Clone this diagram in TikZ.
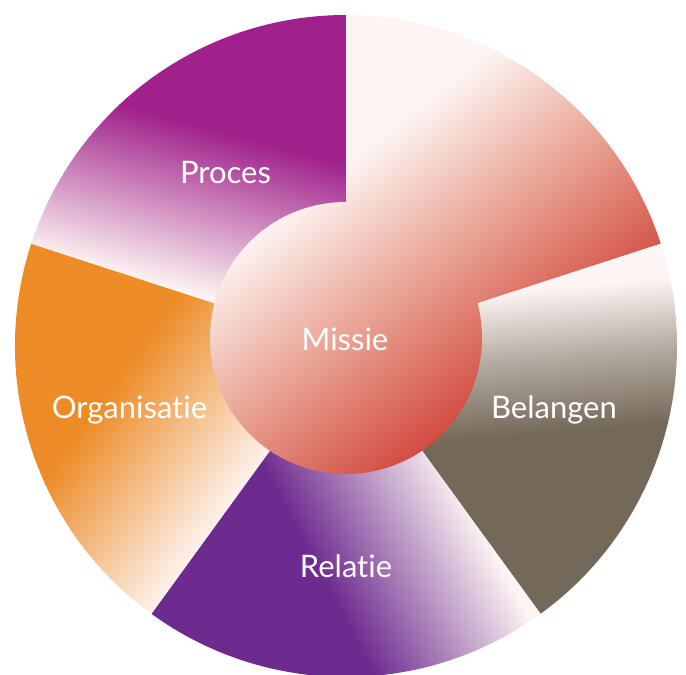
\documentclass[tikz,border=0pt]{standalone}
\usepackage{fontspec}
\setmainfont{Lato}[Ligatures=NoCommon]
\definecolor{lightc}{RGB}{253,245,243}
\definecolor{missdark}{RGB}{210,72,62}
\definecolor{missmid}{RGB}{232,160,144}
\definecolor{procdark}{RGB}{160,33,139}
\definecolor{orgdark}{RGB}{237,140,39}
\definecolor{reldark}{RGB}{109,43,143}
\definecolor{beldark}{RGB}{116,104,88}
\tikzset{lbl/.style={text=white, font=\fontsize{31}{36}\selectfont, anchor=base, inner sep=0pt}}
\newcommand\gradfill[6]{%
  \begin{scope}[transform canvas={rotate=#1}]
    \fill[#4,overlay] (-500,-500) rectangle ({#2+1},500);
    \fill[#6,overlay] ({#3-1},-500) rectangle (500,500);
    \shade[overlay,left color=#4,right color=#6,middle color=#5] (#2,-500) rectangle (#3,500);
  \end{scope}}
\begin{document}
\begin{tikzpicture}[x=1pt,y=1pt]
\useasboundingbox (-346,-329) rectangle (340,346);
\def\R{331}
% Missie outer wedge
\begin{scope}
  \clip (0,0) -- (18:\R) arc[start angle=18,end angle=90,radius=\R] -- cycle;
  \gradfill{-52}{-145}{135}{lightc}{missmid}{missdark}
\end{scope}
% Belangen
\begin{scope}
  \clip (0,0) -- (-54:\R) arc[start angle=-54,end angle=18,radius=\R] -- cycle;
  \gradfill{-85}{-40}{105}{lightc}{lightc!45!beldark}{beldark}
\end{scope}
% Relatie
\begin{scope}
  \clip (0,0) -- (-126:\R) arc[start angle=-126,end angle=-54,radius=\R] -- cycle;
  \gradfill{208}{-35}{130}{lightc}{lightc!50!reldark}{reldark}
\end{scope}
% Organisatie
\begin{scope}
  \clip (0,0) -- (162:\R) arc[start angle=162,end angle=234,radius=\R] -- cycle;
  \gradfill{144}{-5}{165}{lightc}{lightc!50!orgdark}{orgdark}
\end{scope}
% Proces
\begin{scope}
  \clip (0,0) -- (90:\R) arc[start angle=90,end angle=162,radius=\R] -- cycle;
  \gradfill{75}{10}{175}{lightc}{lightc!50!procdark}{procdark}
\end{scope}
% Missie disk
\begin{scope}
  \clip (0,8) circle[radius=136];
  \gradfill{-52}{-145}{135}{lightc}{missmid}{missdark}
\end{scope}
\node[lbl] (missie) at (-1,-4) {Missie};
\node[lbl] (proces) at (-120.5,162) {Proces};
\node[lbl] (belangen) at (208,-72) {Belangen};
\node[lbl] (organisatie) at (-216.5,-72) {Organisatie};
\node[lbl] (relatie) at (0,-231) {Relatie};
\end{tikzpicture}
\end{document}
